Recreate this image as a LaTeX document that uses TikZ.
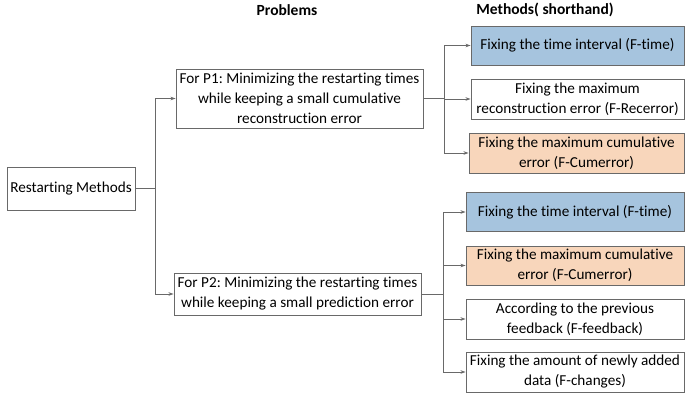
\documentclass[tikz,border=0pt]{standalone}
\usepackage{fontspec}
\setmainfont{Carlito}[Ligatures={NoCommon}]
\frenchspacing
\usetikzlibrary{arrows.meta,calc}
\definecolor{edgegray}{RGB}{105,105,105}
\definecolor{boxblue}{RGB}{166,196,222}
\definecolor{boxpeach}{RGB}{248,214,187}
\tikzset{
  box/.style={draw=edgegray, line width=0.9pt, rectangle, inner sep=0pt,
    align=center, font=\fontsize{15.2}{20}\selectfont},
  arr/.style={draw=edgegray, line width=0.9pt, -{Stealth[length=5pt,width=3.5pt]}},
  link/.style={draw=edgegray, line width=0.9pt},
  head/.style={font=\bfseries\fontsize{15.5}{18}\selectfont}
}
\begin{document}
\begin{tikzpicture}[x=1pt,y=-1pt]
\useasboundingbox (0,0) rectangle (685,399);

% column headings
\node[head] (hprob) at (287,10) {Problems};
\node[head] (hmeth) at (545,10) {Methods( shorthand)};

% root and problems
\node[box, minimum width=128, minimum height=43] (rm) at (71,188.5) {Restarting Methods};
\node[box, minimum width=247, minimum height=59] (p1) at (299.5,98.5)
  {For P1: Minimizing the restarting times\\while keeping a small cumulative\\reconstruction error};
\node[box, minimum width=247, minimum height=42] (p2) at (297.5,294)
  {For P2: Minimizing the restarting times\\while keeping a small prediction error};

% methods for P1
\node[box, fill=boxblue, minimum width=213, minimum height=39] (m11) at (577.5,45.5)
  {Fixing the time interval (F-time)};
\node[box, minimum width=213, minimum height=40] (m12) at (577.5,99)
  {Fixing the maximum\\reconstruction error (F-Recerror)};
\node[box, fill=boxpeach, minimum width=215, minimum height=40] (m13) at (576.5,153)
  {Fixing the maximum cumulative\\error (F-Cumerror)};

% methods for P2
\node[box, fill=boxblue, minimum width=218, minimum height=39] (m21) at (575,212)
  {Fixing the time interval (F-time)};
\node[box, fill=boxpeach, minimum width=218, minimum height=39] (m22) at (575,265.5)
  {Fixing the maximum cumulative\\error (F-Cumerror)};
\node[box, minimum width=218, minimum height=40] (m23) at (575,319)
  {According to the previous\\feedback (F-feedback)};
\node[box, minimum width=218, minimum height=40] (m24) at (575,372)
  {Fixing the amount of newly added\\data (F-changes)};

% branching connectors
\coordinate (j0) at ($(rm.east)+(20,0)$);
\coordinate (j1) at ($(p1.east)+(21,0)$);
\coordinate (j2) at ($(p2.east)+(22,0)$);

\draw[link] (rm.east) -- (j0);
\draw[arr] (j0) |- (p1.west);
\draw[arr] (j0) |- (p2.west);

\draw[link] (p1.east) -- (j1);
\draw[arr] (j1) |- (m11.west);
\draw[arr] (j1) |- (m12.west);
\draw[arr] (j1) |- (m13.west);

\draw[link] (p2.east) -- (j2);
\draw[arr] (j2) |- (m21.west);
\draw[arr] (j2) |- (m22.west);
\draw[arr] (j2) |- (m23.west);
\draw[arr] (j2) |- (m24.west);
\end{tikzpicture}
\end{document}
